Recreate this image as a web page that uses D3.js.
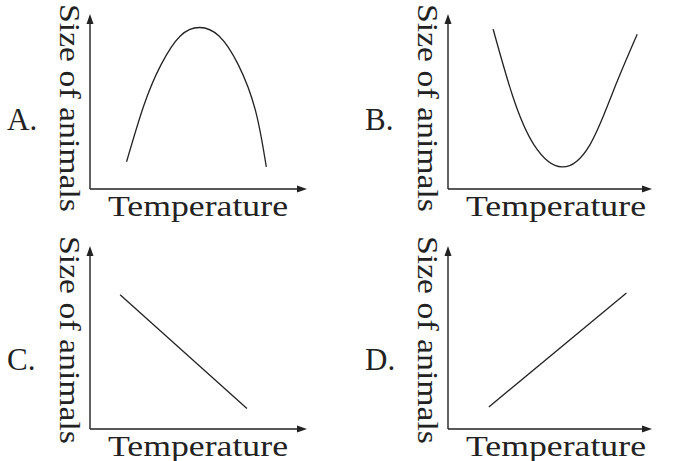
<!DOCTYPE html><html><head><meta charset="utf-8"><script src="https://cdn.jsdelivr.net/npm/d3@7"></script>
<style>body{margin:0;background:#fff}</style></head><body><svg width="673" height="461"></svg>
<script>
const panelLabels=["A.","B.","C.","D."];
const xTitle="Temperature", yTitle="Size of animals";
const curveA=[[1.7,1.6],[2.5,4.9],[3.3,7.3],[4.2,9.0],[5.1,9.5],[6.0,9.0],[6.9,7.3],[7.7,4.6],[8.2,1.3]];
const curveB=[[2.1,9.4],[3.0,5.5],[4.0,2.6],[5.3,1.3],[6.6,2.6],[7.7,5.8],[8.8,9.1]];
const lineC=[[1.4,7.9],[7.3,1.2]];
const lineD=[[1.9,1.3],[8.3,8.0]];
const series=[curveA,curveB,lineC,lineD];
const svg=d3.select("svg");
const panels=[{ox:90,oy:189,x1:307,y1:14},{ox:448,oy:189,x1:652,y1:14},{ox:90,oy:429,x1:307,y1:246},{ox:448,oy:429,x1:652,y1:246}];
const font="'Liberation Serif','DejaVu Serif',serif";
panels.forEach((p,i)=>{
  const g=svg.append("g");
  const x=d3.scaleLinear().domain([0,10]).range([p.ox,p.ox+215]);
  const y=d3.scaleLinear().domain([0,10]).range([p.oy,p.oy-170]);
  g.append("path").attr("d",`M${p.ox},${p.oy}H${p.x1-6}M${p.ox},${p.oy}V${p.y1+6}`).attr("stroke","#222").attr("stroke-width",1.4).attr("fill","none");
  g.append("path").attr("d",`M${p.x1},${p.oy}l-10,-3.5v7z M${p.ox},${p.y1}l-3.5,10h7z`).attr("fill","#222");
  const line=d3.line().x(d=>x(d[0])).y(d=>y(d[1])).curve(series[i].length>2?d3.curveNatural:d3.curveLinear);
  g.append("path").attr("d",line(series[i])).attr("fill","none").attr("stroke","#222").attr("stroke-width",1.3);
  g.append("text").attr("x",p.ox+18).attr("y",p.oy+27).attr("font-family",font).attr("font-size",30).attr("fill","#222")
   .attr("textLength",180).attr("lengthAdjust","spacingAndGlyphs").text(xTitle);
  g.append("text").attr("transform",`translate(${p.ox-30},${p.y1-10}) rotate(90)`).attr("font-family",font).attr("font-size",29).attr("fill","#222")
   .attr("textLength",208).attr("lengthAdjust","spacingAndGlyphs").text(yTitle);
  g.append("text").attr("x",p.ox-83).attr("y",p.oy-59).attr("font-family",font).attr("font-size",31).attr("fill","#222").text(panelLabels[i]);
});
</script></body></html>
